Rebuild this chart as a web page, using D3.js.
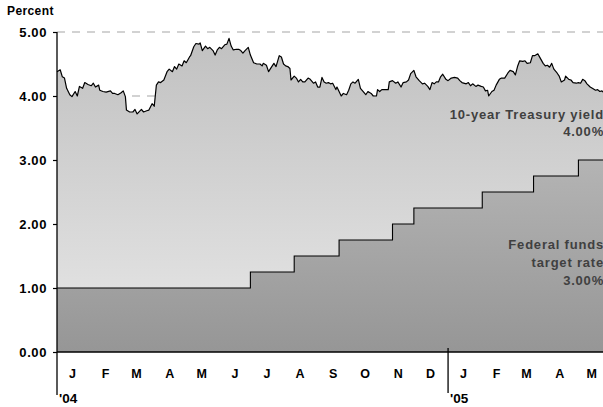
<!DOCTYPE html>
<html><head><meta charset="utf-8">
<script src="https://cdn.jsdelivr.net/npm/d3@7"></script>
<style>
body{margin:0;background:#fff;}
svg{display:block;font-family:"Liberation Sans",Arial,sans-serif;}
</style></head>
<body><svg id="chart" width="603" height="407"></svg>
<script>
// ---- data ----
const treasuryYield = [
["2004-01-01",4.38],["2004-01-04",4.41],["2004-01-06",4.30],["2004-01-08",4.28],["2004-01-10",4.12],["2004-01-13",4.02],["2004-01-15",3.99],["2004-01-18",4.07],["2004-01-20",4.00],["2004-01-22",4.15],["2004-01-25",4.12],["2004-01-27",4.21],["2004-01-30",4.18],["2004-02-02",4.16],["2004-02-04",4.20],["2004-02-06",4.14],["2004-02-09",4.17],["2004-02-10",4.09],["2004-02-13",4.07],["2004-02-16",4.06],["2004-02-20",4.08],["2004-02-22",4.04],["2004-02-24",4.04],["2004-02-27",4.02],["2004-03-01",4.05],["2004-03-03",4.08],["2004-03-05",3.99],["2004-03-06",3.78],["2004-03-09",3.75],["2004-03-12",3.75],["2004-03-14",3.79],["2004-03-16",3.72],["2004-03-20",3.79],["2004-03-22",3.75],["2004-03-25",3.77],["2004-03-27",3.78],["2004-03-30",3.88],["2004-04-01",3.84],["2004-04-03",4.17],["2004-04-05",4.22],["2004-04-07",4.21],["2004-04-10",4.25],["2004-04-13",4.38],["2004-04-15",4.42],["2004-04-18",4.38],["2004-04-20",4.46],["2004-04-22",4.42],["2004-04-24",4.50],["2004-04-27",4.47],["2004-04-29",4.55],["2004-05-01",4.52],["2004-05-04",4.61],["2004-05-05",4.63],["2004-05-08",4.77],["2004-05-10",4.82],["2004-05-13",4.81],["2004-05-14",4.83],["2004-05-16",4.71],["2004-05-19",4.78],["2004-05-21",4.74],["2004-05-23",4.76],["2004-05-26",4.71],["2004-05-28",4.64],["2004-05-30",4.72],["2004-06-01",4.76],["2004-06-03",4.74],["2004-06-06",4.80],["2004-06-08",4.81],["2004-06-10",4.90],["2004-06-12",4.78],["2004-06-14",4.72],["2004-06-17",4.73],["2004-06-19",4.73],["2004-06-21",4.71],["2004-06-23",4.67],["2004-06-25",4.71],["2004-06-28",4.76],["2004-06-30",4.64],["2004-07-03",4.52],["2004-07-06",4.50],["2004-07-09",4.50],["2004-07-11",4.47],["2004-07-12",4.51],["2004-07-15",4.48],["2004-07-17",4.38],["2004-07-20",4.46],["2004-07-22",4.51],["2004-07-24",4.46],["2004-07-27",4.63],["2004-07-29",4.61],["2004-07-31",4.50],["2004-08-02",4.47],["2004-08-04",4.46],["2004-08-06",4.43],["2004-08-07",4.25],["2004-08-10",4.31],["2004-08-12",4.28],["2004-08-14",4.22],["2004-08-16",4.26],["2004-08-18",4.22],["2004-08-20",4.22],["2004-08-23",4.28],["2004-08-25",4.26],["2004-08-28",4.20],["2004-08-30",4.22],["2004-09-01",4.14],["2004-09-03",4.14],["2004-09-05",4.29],["2004-09-07",4.22],["2004-09-09",4.20],["2004-09-11",4.21],["2004-09-13",4.19],["2004-09-15",4.20],["2004-09-18",4.10],["2004-09-19",4.14],["2004-09-23",4.00],["2004-09-25",4.04],["2004-09-28",4.02],["2004-09-30",4.09],["2004-10-02",4.19],["2004-10-04",4.22],["2004-10-06",4.20],["2004-10-09",4.26],["2004-10-11",4.12],["2004-10-13",4.08],["2004-10-16",4.02],["2004-10-18",4.07],["2004-10-21",4.04],["2004-10-23",4.00],["2004-10-26",4.00],["2004-10-27",4.10],["2004-10-29",4.07],["2004-10-31",4.10],["2004-11-03",4.10],["2004-11-06",4.10],["2004-11-07",4.22],["2004-11-10",4.24],["2004-11-13",4.20],["2004-11-15",4.22],["2004-11-18",4.14],["2004-11-20",4.21],["2004-11-23",4.22],["2004-11-25",4.25],["2004-11-27",4.35],["2004-11-30",4.40],["2004-12-02",4.30],["2004-12-05",4.24],["2004-12-08",4.19],["2004-12-10",4.20],["2004-12-13",4.15],["2004-12-15",4.10],["2004-12-17",4.21],["2004-12-19",4.19],["2004-12-21",4.22],["2004-12-23",4.22],["2004-12-25",4.30],["2004-12-27",4.34],["2004-12-30",4.26],["2005-01-01",4.24],["2005-01-04",4.28],["2005-01-07",4.29],["2005-01-10",4.28],["2005-01-12",4.24],["2005-01-14",4.21],["2005-01-18",4.19],["2005-01-20",4.21],["2005-01-22",4.16],["2005-01-24",4.19],["2005-01-27",4.15],["2005-01-29",4.17],["2005-02-01",4.15],["2005-02-03",4.14],["2005-02-05",4.08],["2005-02-07",4.09],["2005-02-08",4.00],["2005-02-11",4.07],["2005-02-13",4.09],["2005-02-15",4.17],["2005-02-18",4.26],["2005-02-20",4.28],["2005-02-23",4.28],["2005-02-26",4.36],["2005-02-28",4.40],["2005-03-03",4.38],["2005-03-05",4.33],["2005-03-07",4.46],["2005-03-09",4.55],["2005-03-12",4.54],["2005-03-14",4.55],["2005-03-16",4.51],["2005-03-19",4.52],["2005-03-21",4.63],["2005-03-23",4.63],["2005-03-26",4.66],["2005-03-28",4.60],["2005-03-31",4.51],["2005-04-02",4.47],["2005-04-04",4.48],["2005-04-06",4.45],["2005-04-08",4.51],["2005-04-10",4.42],["2005-04-13",4.36],["2005-04-15",4.31],["2005-04-17",4.22],["2005-04-20",4.25],["2005-04-21",4.31],["2005-04-24",4.26],["2005-04-26",4.25],["2005-04-28",4.21],["2005-05-01",4.20],["2005-05-03",4.21],["2005-05-05",4.20],["2005-05-07",4.26],["2005-05-09",4.24],["2005-05-11",4.19],["2005-05-14",4.14],["2005-05-16",4.12],["2005-05-19",4.09],["2005-05-21",4.10],["2005-05-23",4.07],["2005-05-25",4.08],["2005-05-27",4.05]
];
const fedFundsTarget = [
["2004-01-01",1.00],["2004-06-30",1.25],["2004-08-10",1.50],["2004-09-21",1.75],["2004-11-10",2.00],["2004-11-30",2.25],["2005-02-02",2.50],["2005-03-22",2.75],["2005-05-03",3.00],["2005-05-27",3.00]
];
const yTicks = [0,1,2,3,4,5];
const gridValues = [4,5];
const monthLabels = ["J","F","M","A","M","J","J","A","S","O","N","D","J","F","M","A","M"];
const yearLabels = [["2004-01-01","'04"],["2005-01-01","'05"]];
const seriesLabels = {
  treasury: ["10-year Treasury yield","4.00%"],
  fed: ["Federal funds","target rate","3.00%"]
};

// ---- chart ----
const parse = d3.timeParse("%Y-%m-%d");
const ty = treasuryYield.map(d => ({date: parse(d[0]), v: d[1]}));
const ff = fedFundsTarget.map(d => ({date: parse(d[0]), v: d[1]}));

const svg = d3.select("#chart");
const x = d3.scaleTime().domain([parse("2004-01-01"), parse("2005-05-26")]).range([57, 603]);
const y = d3.scaleLinear().domain([0, 5]).range([352, 32]);

const defs = svg.append("defs");
const g1 = defs.append("linearGradient").attr("id","gT").attr("gradientUnits","userSpaceOnUse")
  .attr("x1",0).attr("x2",0).attr("y1",y(5)).attr("y2",y(0));
g1.append("stop").attr("offset",0).attr("stop-color","#c0c0c0");
g1.append("stop").attr("offset",1).attr("stop-color","#e8e8e8");
const g2 = defs.append("linearGradient").attr("id","gF").attr("gradientUnits","userSpaceOnUse")
  .attr("x1",0).attr("x2",0).attr("y1",y(3)).attr("y2",y(0));
g2.append("stop").attr("offset",0).attr("stop-color","#b4b4b4");
g2.append("stop").attr("offset",1).attr("stop-color","#969696");

// gridlines
svg.append("g").selectAll("line").data(gridValues).join("line")
  .attr("x1", x.range()[0]).attr("x2", 603)
  .attr("y1", d => y(d)).attr("y2", d => y(d))
  .attr("stroke","#a6a6a6").attr("stroke-width",1.2).attr("stroke-dasharray","8,7");

// treasury area + line
svg.append("path").datum(ty)
  .attr("d", d3.area().x(d => x(d.date)).y0(y(0)).y1(d => y(d.v)))
  .attr("fill","url(#gT)");
svg.append("path").datum(ty)
  .attr("d", d3.line().x(d => x(d.date)).y(d => y(d.v)))
  .attr("fill","none").attr("stroke","#000").attr("stroke-width",1.2).attr("stroke-linejoin","round");

// fed funds area + line
svg.append("path").datum(ff)
  .attr("d", d3.area().curve(d3.curveStepAfter).x(d => x(d.date)).y0(y(0)).y1(d => y(d.v)))
  .attr("fill","url(#gF)");
svg.append("path").datum(ff)
  .attr("d", d3.line().curve(d3.curveStepAfter).x(d => x(d.date)).y(d => y(d.v)))
  .attr("fill","none").attr("stroke","#000").attr("stroke-width",1.1);

// y axis
const yAxis = svg.append("g").attr("transform","translate(57,0)")
  .call(d3.axisLeft(y).tickValues(yTicks).tickFormat(d3.format(".2f")).tickSize(4).tickSizeOuter(0));
yAxis.select(".domain").remove();
yAxis.selectAll(".tick line").attr("stroke","#000").attr("stroke-width",1.2);
yAxis.selectAll(".tick text").attr("x",-10).attr("dy","0.36em")
  .attr("font-size","13px").attr("font-weight","bold").attr("fill","#000")
  .style("font-family","'Liberation Sans',Arial,sans-serif").style("letter-spacing","0.6px");
svg.append("line").attr("x1",57).attr("x2",57).attr("y1",y(5)).attr("y2",395)
  .attr("stroke","#000").attr("stroke-width",1.3);

// x axis
const mids = d3.timeMonths(parse("2004-01-01"), parse("2005-06-01")).map(m => d3.timeDay.offset(m, 14));
const xAxis = svg.append("g").attr("transform",`translate(0,${y(0)})`)
  .call(d3.axisBottom(x).tickValues(mids).tickSize(0).tickFormat((d,i) => monthLabels[i]));
xAxis.select(".domain").remove();
xAxis.selectAll(".tick text").attr("y",17).attr("dy","0.71em")
  .attr("font-size","12.5px").attr("font-weight","bold").attr("fill","#000")
  .style("font-family","'Liberation Sans',Arial,sans-serif");
svg.append("line").attr("x1",57).attr("x2",603).attr("y1",y(0)).attr("y2",y(0))
  .attr("stroke","#000").attr("stroke-width",1.3);

// year separators & labels
svg.append("g").selectAll("line").data(yearLabels.slice(1)).join("line")
  .attr("x1", d => x(parse(d[0]))).attr("x2", d => x(parse(d[0])))
  .attr("y1", y(0) - 4).attr("y2", 393).attr("stroke","#000").attr("stroke-width",1.3);
svg.append("g").selectAll("text").data(yearLabels).join("text")
  .attr("x", d => x(parse(d[0])) + 2).attr("y", 403)
  .attr("font-size","13.5px").attr("font-weight","bold").text(d => d[1]);

// "Percent"
svg.append("text").attr("x",7).attr("y",15).attr("font-size","12px").attr("font-weight","bold")
  .style("letter-spacing","0.4px").text("Percent");

// series labels
const lab = svg.append("g").attr("text-anchor","end").attr("font-weight","bold")
  .attr("font-size","13px").attr("fill","#404040").style("letter-spacing","0.8px");
seriesLabels.treasury.forEach((t,i) => lab.append("text").attr("x",604).attr("y", y(3.64) + i*17).text(t));
seriesLabels.fed.forEach((t,i) => lab.append("text").attr("x",604).attr("y", y(1.61) + i*18).text(t));
</script></body></html>
